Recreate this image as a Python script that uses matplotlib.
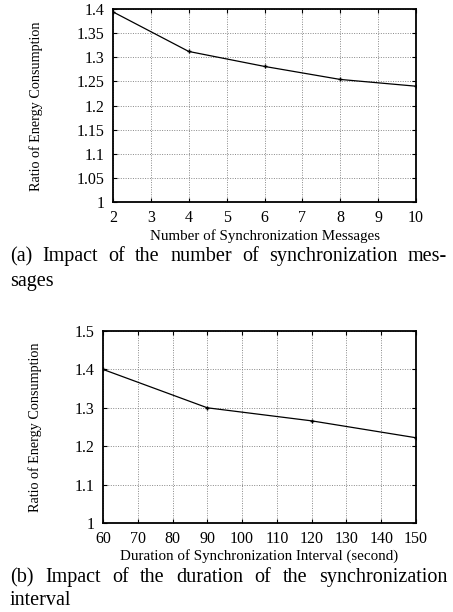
import matplotlib
matplotlib.use('Agg')
from matplotlib import pyplot as plt

# (a) number of synchronization messages
msg_count = [2, 4, 6, 8, 10]
msg_ratio = [1.394, 1.312, 1.281, 1.254, 1.240]
msg_yticks = [1, 1.05, 1.1, 1.15, 1.2, 1.25, 1.3, 1.35, 1.4]
msg_ylabels = ['1', '1.05', '1.1', '1.15', '1.2', '1.25', '1.3', '1.35', '1.4']

# (b) duration of synchronization interval
interval = [60, 90, 120, 150]
interval_ratio = [1.400, 1.300, 1.266, 1.222]
int_yticks = [1, 1.1, 1.2, 1.3, 1.4, 1.5]
int_ylabels = ['1', '1.1', '1.2', '1.3', '1.4', '1.5']

caption_a = ['(a) Impact of the number of synchronization mes-', 'sages']
caption_b = ['(b) Impact of the duration of the synchronization', 'interval']

plt.rcParams['font.family'] = ['Liberation Serif', 'DejaVu Serif']

W, H = 453, 612
fig = plt.figure(figsize=(W / 100, H / 100), dpi=100)


def px_axes(left, top, right, bottom):
    return fig.add_axes([left / W, 1 - bottom / H, (right - left) / W, (bottom - top) / H])


def style(ax):
    ax.grid(True, color='#888888', linestyle=(0, (1, 1.5)), linewidth=0.7)
    ax.tick_params(direction='in', top=True, right=True, length=3, width=0.8,
                   labelsize=11.5, pad=6)
    for s in ax.spines.values():
        s.set_linewidth(1.3)


ax1 = px_axes(113, 9, 416, 202)
ax1.plot(msg_count, msg_ratio, color='black', linewidth=0.9, marker='+', markersize=3)
ax1.set_xlim(2, 10)
ax1.set_ylim(1, 1.4)
ax1.set_xticks(range(2, 11))
ax1.set_yticks(msg_yticks)
ax1.set_yticklabels(msg_ylabels)
style(ax1)
ax1.set_xlabel('Number of Synchronization Messages', fontsize=10.8, labelpad=2)
ax1.set_ylabel('Ratio of Energy Consumption', fontsize=10.2)
ax1.yaxis.set_label_coords(36 / W, 0.5, transform=fig.transFigure)

ax2 = px_axes(103, 331, 416, 523)
ax2.plot(interval, interval_ratio, color='black', linewidth=0.9, marker='+', markersize=3)
ax2.set_xlim(60, 150)
ax2.set_ylim(1, 1.5)
ax2.set_xticks(range(60, 151, 10))
ax2.set_yticks(int_yticks)
ax2.set_yticklabels(int_ylabels)
style(ax2)
ax2.set_xlabel('Duration of Synchronization Interval (second)', fontsize=10.8, labelpad=1)
ax2.set_ylabel('Ratio of Energy Consumption', fontsize=10.2)
ax2.yaxis.set_label_coords(35 / W, 1 - 427 / H, transform=fig.transFigure)

ax1.yaxis.set_label_coords(36 / W, 1 - 106 / H, transform=fig.transFigure)
for ax in (ax1, ax2):
    ax.yaxis.label.set_va('center')

fig.canvas.draw()
renderer = fig.canvas.get_renderer()

cap_size = 14.5


def justified(line, y, x0=10, x1=447, size=cap_size):
    # spread the words over the full width, like the justified paper caption
    words = line.split(' ')
    texts = [fig.text(0, 1 - y / H, w, fontsize=size, va='baseline', ha='left') for w in words]
    widths = [t.get_window_extent(renderer).width for t in texts]
    gap = (x1 - x0 - sum(widths)) / (len(words) - 1)
    x = x0
    for t, w in zip(texts, widths):
        t.set_x(x / W)
        x += w + gap


justified(caption_a[0], 261)
fig.text(10 / W, 1 - 286 / H, caption_a[1], fontsize=cap_size, va='baseline', ha='left')
justified(caption_b[0], 582)
fig.text(10 / W, 1 - 605 / H, caption_b[1], fontsize=cap_size, va='baseline', ha='left')

fig.savefig('out.png', dpi=100)
